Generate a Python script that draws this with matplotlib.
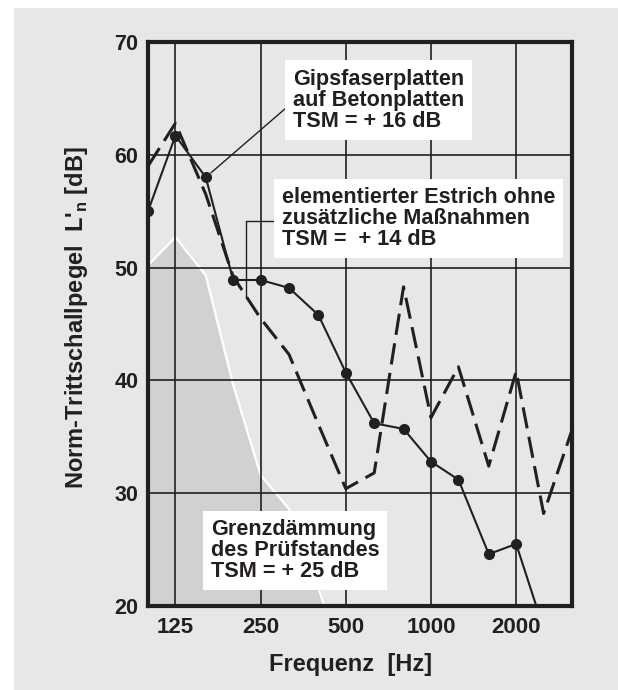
import matplotlib
matplotlib.use("Agg")
import matplotlib.pyplot as plt
from matplotlib.patches import Rectangle
from matplotlib.ticker import FixedLocator, NullLocator

plt.rcParams['font.family'] = ['Liberation Sans', 'DejaVu Sans']
plt.rcParams['font.weight'] = 'bold'
plt.rcParams['mathtext.fontset'] = 'custom'
plt.rcParams['mathtext.rm'] = 'Liberation Sans:bold'

# third-octave band centre frequencies
freqs = [100, 125, 160, 200, 250, 315, 400, 500, 630, 800, 1000, 1250, 1600, 2000, 2500, 3150]

# Gipsfaserplatten auf Betonplatten (solid, markers)
gips = [55.0, 61.7, 58.0, 48.9, 48.9, 48.2, 45.8, 40.7, 36.2, 35.7, 32.8, 31.2, 24.6, 25.5, 18.0]
# elementierter Estrich ohne zusaetzliche Massnahmen (dashed)
estrich = [59.0, 62.8, 56.5, 49.2, 45.5, 42.3, 36.1, 30.4, 31.8, 48.3, 36.7, 41.2, 32.4, 40.8, 28.2, 35.6]
# Grenzdaemmung des Pruefstandes (grey area)
grenz = [50.2, 52.7, 49.3, 39.6, 31.6, 28.6, 21.6, 14.0]

xticks = [125, 250, 500, 1000, 2000]
yticks = [20, 30, 40, 50, 60, 70]

ink = '#231f20'
bg = '#e6e7e9'
fill_grey = '#d0d1d3'

fig = plt.figure(figsize=(6.18, 6.9), dpi=100, facecolor='white')
fig.patches.append(Rectangle((14 / 618, 0), 1, 1 - 8 / 690, transform=fig.transFigure,
                             facecolor=bg, edgecolor='none', zorder=-10))

ax = fig.add_axes([148 / 618, 84 / 690, 424 / 618, 564 / 690])
ax.set_facecolor(bg)
ax.set_xscale('log')
ax.set_xlim(100, 3150)
ax.set_ylim(20, 70)

# grey area of the test rig limit
ax.fill_between(freqs[:len(grenz)], grenz, 0, color=fill_grey, linewidth=0, zorder=1)
ax.plot(freqs[:len(grenz)], grenz, color='white', linewidth=1.6, zorder=1.5)

ax.plot(freqs, estrich, color=ink, linewidth=2.2, dashes=(7.0, 2.8), zorder=3)
ax.plot(freqs[:len(gips)], gips, color=ink, linewidth=1.5, marker='o', markersize=7,
        zorder=3.5)

ax.xaxis.set_major_locator(FixedLocator(xticks))
ax.xaxis.set_minor_locator(NullLocator())
ax.set_xticklabels([str(t) for t in xticks])
ax.set_yticks(yticks)
ax.tick_params(axis='both', length=0, colors=ink)
ax.tick_params(axis='x', labelsize=16, pad=8)
ax.tick_params(axis='y', labelsize=15.5, pad=7)
ax.set_axisbelow(False)
ax.grid(True, color=ink, linewidth=1.2)
for sp in ax.spines.values():
    sp.set_linewidth(3)
    sp.set_color(ink)

box = dict(facecolor='white', edgecolor='none', pad=5.8)
txt_kw = dict(fontsize=15.6, fontweight='bold', color=ink, ha='left', va='top',
              linespacing=1.0, transform=ax.transAxes, zorder=6)

ax.annotate('Gipsfaserplatten\nauf Betonplatten\nTSM = + 16 dB',
            xy=(freqs[2], gips[2]), xycoords='data',
            xytext=(0.342, 0.953), textcoords='axes fraction',
            fontsize=15.6, fontweight='bold', color=ink, ha='left', va='top',
            linespacing=1.0, bbox=box, zorder=6,
            arrowprops=dict(arrowstyle='-', color=ink, linewidth=1.0,
                            relpos=(0, 0.47), shrinkA=0, shrinkB=5))

ax.annotate('elementierter Estrich ohne\nzusätzliche Maßnahmen\nTSM =  + 14 dB',
            xy=(222, 47.4), xycoords='data',
            xytext=(0.316, 0.743), textcoords='axes fraction',
            fontsize=15.6, fontweight='bold', color=ink, ha='left', va='top',
            linespacing=1.0, bbox=box, zorder=6,
            arrowprops=dict(arrowstyle='-', color=ink, linewidth=1.0,
                            relpos=(0, 0.46), shrinkA=0, shrinkB=0,
                            connectionstyle='angle,angleA=0,angleB=90,rad=0'))

ax.text(0.148, 0.155, 'Grenzdämmung\ndes Prüfstandes\nTSM = + 25 dB', bbox=box, **txt_kw)

fig.text(77 / 618, 1 - 318 / 690, "Norm-Trittschallpegel  L'$_{\\mathrm{n}}$ [dB]",
         rotation=90, ha='center', va='center', fontsize=17, fontweight='bold', color=ink)
fig.text(351 / 618, 1 - 664 / 690, 'Frequenz  [Hz]', ha='center', va='center',
         fontsize=17, fontweight='bold', color=ink)

fig.savefig('out.png', dpi=100, facecolor='white')
